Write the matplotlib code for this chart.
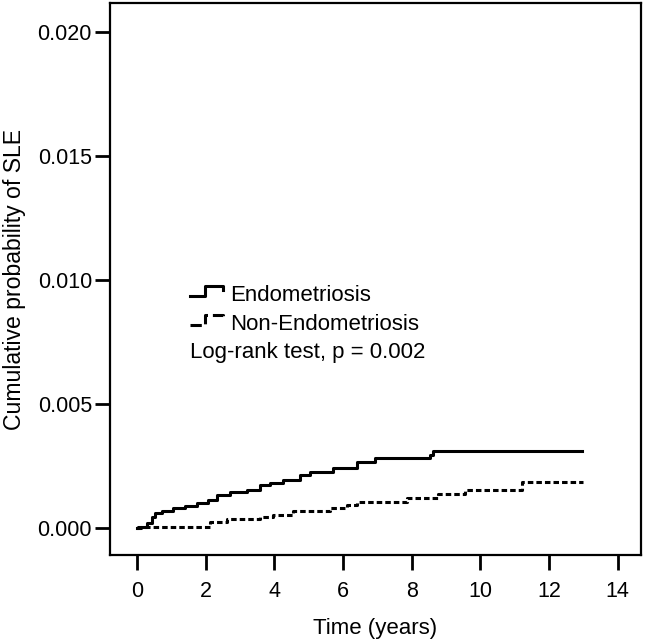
import matplotlib
matplotlib.use("Agg")
import matplotlib.pyplot as plt
from matplotlib.lines import Line2D
from matplotlib.legend_handler import HandlerBase

# Curvas Kaplan-Meier acumuladas (años, probabilidad)
endo_t = [0.0, 0.03, 0.29, 0.44, 0.52, 0.73, 1.05, 1.40, 1.75, 2.07, 2.33,
          2.71, 3.20, 3.59, 3.88, 4.26, 4.75, 5.04, 5.71, 6.41, 6.94, 8.54,
          8.63, 12.97]
endo_p = [0.0, 0.00004, 0.00020, 0.00044, 0.00060, 0.00069, 0.00081,
          0.00089, 0.00101, 0.00113, 0.00133, 0.00145, 0.00153, 0.00173,
          0.00181, 0.00193, 0.00214, 0.00226, 0.00242, 0.00266, 0.00282,
          0.00294, 0.00310, 0.00310]

non_t = [0.0, 0.10, 2.13, 2.62, 3.59, 3.97, 4.55, 5.63, 6.12, 6.41, 7.87,
         8.75, 9.56, 11.22, 13.0]
non_p = [0.0, 0.00004, 0.00024, 0.00036, 0.00044, 0.00052, 0.00069,
         0.00081, 0.00093, 0.00105, 0.00121, 0.00137, 0.00153, 0.00185,
         0.00185]

labels = ["Endometriosis", "Non-Endometriosis"]
x_ticks = [0, 2, 4, 6, 8, 10, 12, 14]
y_ticks = [0.000, 0.005, 0.010, 0.015, 0.020]

plt.rcParams["font.family"] = ["Liberation Sans", "DejaVu Sans"]


class StepHandler(HandlerBase):
    # muestra de leyenda con forma de escalón, como en SPSS
    def create_artists(self, legend, orig, xd, yd, w, h, fontsize, trans):
        xs = [-xd, -xd + 0.45 * w, -xd + 0.45 * w, -xd + w, -xd + w]
        ys = [-yd + 0.3 * h, -yd + 0.3 * h, -yd + 0.95 * h, -yd + 0.95 * h,
              -yd + 0.7 * h]
        ln = Line2D(xs, ys, color=orig.get_color(),
                    linestyle=orig.get_linestyle(),
                    linewidth=orig.get_linewidth(), transform=trans)
        return [ln]


fig = plt.figure(figsize=(6.45, 6.44), dpi=100)
ax = fig.add_axes([0.1705, 0.138, 0.823, 0.857])

l1, = ax.step(endo_t, endo_p, where="post", color="black", linewidth=2.2,
              label=labels[0])
l2, = ax.step(non_t, non_p, where="post", color="black", linewidth=2.2,
              linestyle=(0, (1.8, 1.0)), label=labels[1])

ax.set_xlim(-0.79, 14.67)
ax.set_ylim(-0.00110, 0.02118)
ax.set_xticks(x_ticks)
ax.set_yticks(y_ticks)
ax.set_yticklabels([f"{v:.3f}" for v in y_ticks])
ax.tick_params(axis="both", direction="out", length=11, width=2,
               labelsize=15.5, color="black")
ax.tick_params(axis="x", pad=7.5)
ax.tick_params(axis="y", pad=2)
for sp in ax.spines.values():
    sp.set_linewidth(1.6)

ax.set_xlabel("Time (years)", fontsize=16, labelpad=12)
ax.set_ylabel("Cumulative probability of SLE", fontsize=16.6, labelpad=8.5)

leg = ax.legend(handles=[l1, l2], loc="upper left",
                bbox_to_anchor=(0.151, 0.49), frameon=False, fontsize=16,
                handlelength=1.5, handletextpad=0.3, labelspacing=0.36,
                borderpad=0, borderaxespad=0,
                handler_map={Line2D: StepHandler()})
ax.text(0.151, 0.368, "Log-rank test, p = 0.002", transform=ax.transAxes,
        fontsize=16, va="center", ha="left")

fig.savefig("out.png", dpi=100)
